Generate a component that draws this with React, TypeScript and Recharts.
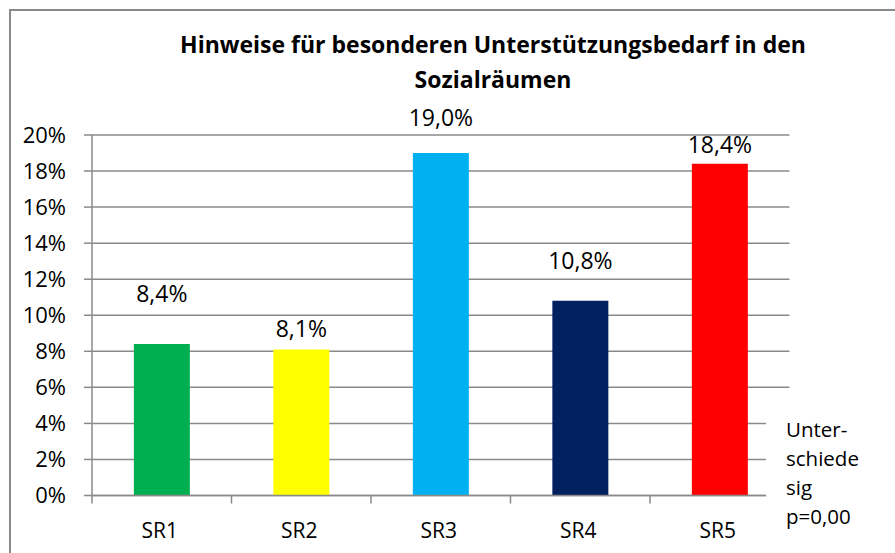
import React from 'react';
import { BarChart, Bar, XAxis, YAxis, CartesianGrid, Cell, LabelList } from 'recharts';

const categories = ['SR1', 'SR2', 'SR3', 'SR4', 'SR5'];
const shares = [8.4, 8.1, 19.0, 10.8, 18.4];
const barColors = ['#00B050', '#FFFF00', '#00B0F0', '#002060', '#FF0000'];
const yTicks = [0, 2, 4, 6, 8, 10, 12, 14, 16, 18, 20];
const titleLines = ['Hinweise für besonderen Unterstützungsbedarf in den', 'Sozialräumen'];
const noteLines = ['Unter-', 'schiede', 'sig', 'p=0,00'];
// label lift above each bar (Excel labels were nudged by hand)
const labelGap = [42, 12, 27, 32, 11];

const W = 895;
const H = 553;
const FONT = '"Open Sans", sans-serif';
const GRID = '#8a8a8a';

const data = categories.map((name, i) => ({ name, value: shares[i] }));

const fmtPct = (v: number) => `${v.toFixed(1).replace('.', ',')}%`;

function CategoryTick(props: any) {
  const { x, y, payload } = props;
  const half = payload?.offset ?? 69.75;
  return (
    <g>
      <line x1={x - half} x2={x - half} y1={y} y2={y + 8} stroke={GRID} strokeWidth={1.5} />
      <text x={x - 2} y={y + 42} textAnchor="middle" fontSize={21} fontFamily={FONT} fill="#000">
        {payload.value}
      </text>
    </g>
  );
}

function ValueLabel(props: any) {
  const { x, y, width, index, value } = props;
  return (
    <text
      x={x + width / 2}
      y={y - labelGap[index]}
      textAnchor="middle"
      fontSize={23}
      fontFamily={FONT}
      fill="#000"
    >
      {fmtPct(value)}
    </text>
  );
}

export default function App() {
  return (
    <div style={{ position: 'fixed', left: 0, top: 0, width: W, height: H, background: '#fff' }}>
      <BarChart
        width={W}
        height={H}
        data={data}
        margin={{ top: 135, right: 105.5, left: 0, bottom: 7.5 }}
        barCategoryGap="30%"
      >
        <CartesianGrid horizontal vertical={false} stroke={GRID} strokeWidth={1.5} />
        <YAxis
          width={92}
          domain={[0, 20]}
          ticks={yTicks}
          interval={0}
          tickFormatter={(v: number) => `${v}%`}
          axisLine={{ stroke: GRID, strokeWidth: 1.5 }}
          tickLine={{ stroke: GRID, strokeWidth: 1.5 }}
          tickSize={8}
          tickMargin={18}
          tick={{ fontSize: 22, fill: '#000', fontFamily: FONT }}
        />
        <XAxis
          dataKey="name"
          height={50}
          interval={0}
          axisLine={{ stroke: GRID, strokeWidth: 1.5 }}
          tickLine={false}
          tickSize={0}
          tickMargin={0}
          tick={<CategoryTick />}
        />
        <Bar dataKey="value" isAnimationActive={false}>
          {data.map((d, i) => (
            <Cell key={d.name} fill={barColors[i]} />
          ))}
          <LabelList dataKey="value" content={<ValueLabel />} />
        </Bar>
      </BarChart>
      <svg
        width={W}
        height={H}
        style={{ position: 'absolute', left: 0, top: 0, pointerEvents: 'none' }}
      >
        <rect x={10} y={10} width={W} height={H} fill="none" stroke={GRID} strokeWidth={2} />
        {titleLines.map((t, i) => (
          <text
            key={t}
            x={493}
            y={53 + i * 35}
            textAnchor="middle"
            fontSize={23}
            fontWeight="bold"
            fontFamily={FONT}
            fill="#000"
          >
            {t}
          </text>
        ))}
        <rect x={766} y={400} width={120} height={145} fill="#fff" />
        {noteLines.map((t, i) => (
          <text key={t} x={786} y={437 + i * 29} fontSize={20.5} fontFamily={FONT} fill="#000">
            {t}
          </text>
        ))}
      </svg>
    </div>
  );
}
